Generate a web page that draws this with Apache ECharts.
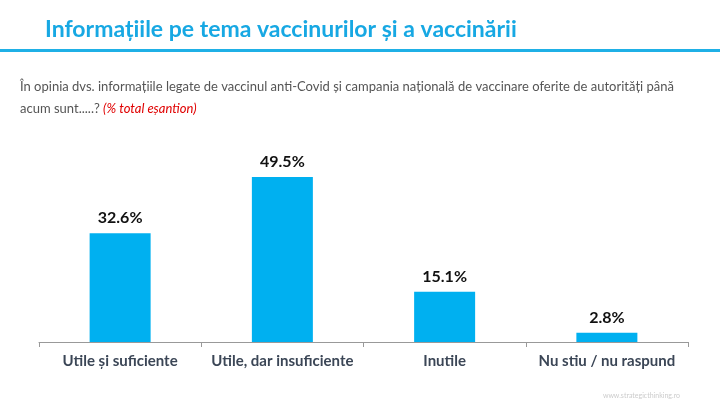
<!DOCTYPE html>
<html>
<head>
<meta charset="utf-8">
<script src="https://cdn.jsdelivr.net/npm/echarts@6/dist/echarts.min.js"></script>
<style>
	html, body { margin: 0; padding: 0; background: #fff; }
	#chart { width: 720px; height: 405px; }
</style>
</head>
<body>
<div id="chart"></div>
<script>
var categories = [ 'Utile și suficiente', 'Utile, dar insuficiente', 'Inutile', 'Nu stiu / nu raspund' ];
var values = [ 32.6, 49.5, 15.1, 2.8 ];

var myChart = echarts.init(document.getElementById('chart'));

var option = {
	backgroundColor : '#ffffff',
	textStyle : {
		fontFamily : 'Lato'
	},
	graphic : [ {
		type : 'text', // titlu
		left : 45,
		top : 18,
		style : {
			text : 'Informațiile pe tema vaccinurilor și a vaccinării',
			fill : '#17a8e3',
			font : 'bold 23px Lato'
		}
	}, {
		type : 'rect', // linia de sub titlu
		shape : { x : 0, y : 49, width : 720, height : 3 },
		style : { fill : '#1fb0e6' }
	}, {
		type : 'text',
		left : 20,
		top : 80,
		style : {
			text : 'În opinia dvs. informațiile legate de vaccinul anti-Covid și campania națională de vaccinare oferite de autorități până',
			fill : '#555555',
			font : '13px Lato'
		}
	}, {
		type : 'text',
		left : 20,
		top : 102,
		style : {
			rich : {
				a : { fill : '#555555', font : '13px Lato' },
				b : { fill : '#e00000', font : 'italic 13px Lato' }
			},
			text : '{a|acum sunt.....? }{b|(% total eșantion)}'
		}
	}, {
		type : 'text',
		right : 40,
		top : 392,
		style : {
			text : 'www.strategicthinking.ro',
			fill : '#cccccc',
			font : '7px Lato'
		}
	} ],
	grid : {
		left : 39,
		right : 32,
		top : 142,
		bottom : 63
	},
	xAxis : {
		type : 'category',
		data : categories,
		axisLine : {
			lineStyle : { color : '#999999', width : 1 }
		},
		axisTick : {
			show : true,
			length : 5,
			lineStyle : { color : '#999999' }
		},
		axisLabel : {
			interval : 0,
			fontSize : 15,
			fontWeight : 'bold',
			color : '#3b4656',
			margin : 12
		}
	},
	yAxis : {
		type : 'value',
		min : 0,
		max : 60,
		show : false,
		splitLine : { show : false }
	},
	series : [ {
		type : 'bar',
		data : values,
		barWidth : 61,
		itemStyle : { color : '#00b0f0' },
		label : { // valori deasupra barelor
			show : true,
			position : 'top',
			distance : 7,
			formatter : function(p) {
				return p.value.toFixed(1) + '%';
			},
			fontSize : 16,
			fontWeight : 'bold',
			color : '#111111'
		}
	} ]
};

myChart.setOption(option);
</script>
</body>
</html>
